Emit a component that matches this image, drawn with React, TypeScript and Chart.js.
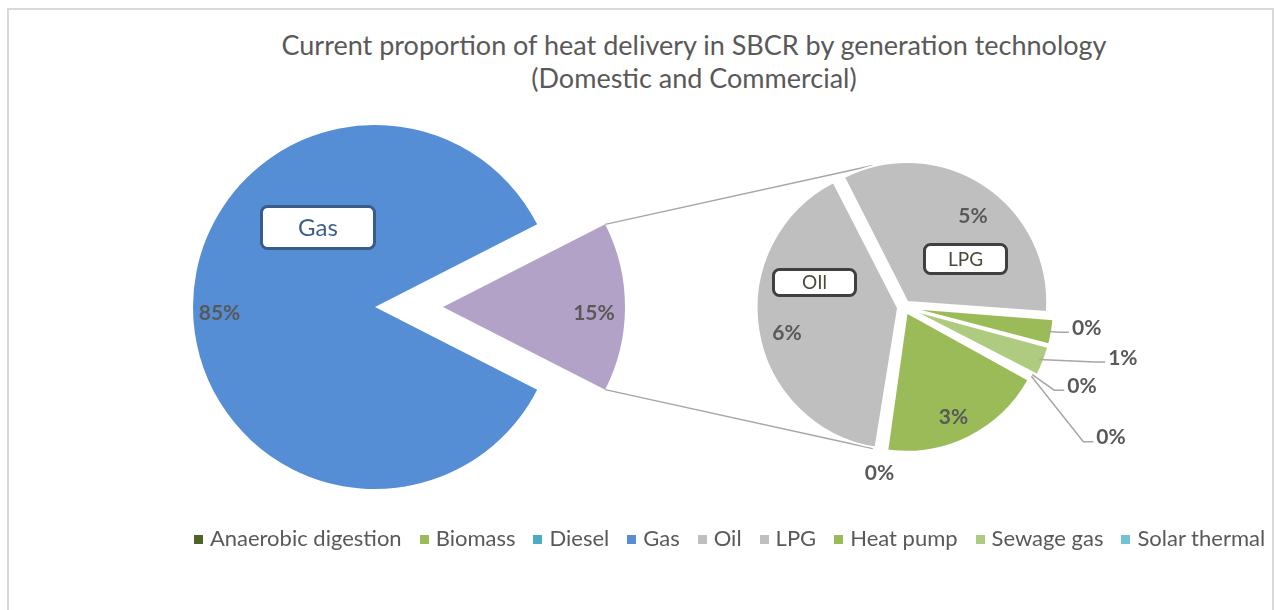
import React, { useEffect, useRef } from "react";
import { Chart, registerables } from "chart.js";

Chart.register(...registerables);

// ---------------- data ----------------
const TITLE_LINES = [
  "Current proportion of heat delivery in SBCR by generation technology",
  "(Domestic and Commercial)",
];

const LEGEND_CATEGORIES = [
  "Anaerobic digestion",
  "Biomass",
  "Diesel",
  "Gas",
  "Oil",
  "LPG",
  "Heat pump",
  "Sewage gas",
  "Solar thermal",
];
const LEGEND_COLORS = [
  "#4F6228",
  "#9BBB59",
  "#4BACC6",
  "#558ED5",
  "#BFBFBF",
  "#BFBFBF",
  "#9BBB59",
  "#AFCB80",
  "#72C0D2",
];

const PRIMARY_CATEGORIES = ["Gas", "Other"];
const GAS_SHARE = 85.0;
const OTHER_COLOR = "#B3A2C7";

const SECONDARY_CATEGORIES = [
  "Anaerobic digestion",
  "Biomass",
  "Diesel",
  "Oil",
  "LPG",
  "Heat pump",
  "Sewage gas",
  "Solar thermal",
];
const SECONDARY_SHARES = [0.03, 2.88, 0.04, 6.0, 5.05, 0.45, 0.52, 0.03];

// ---------------- layout / style ----------------
const W = 1274;
const H = 610;
const FONT = "Lato, 'Open Sans', 'DejaVu Sans', sans-serif";
const LABEL_GRAY = "#595959";
const MAIN_CENTER = { x: 375, y: 307 };
const MAIN_RADIUS = 182;
const OTHER_SHIFT = 68;
const MAIN_ROTATION = 117;
const SEC_CENTER = { x: 904, y: 307 };
const SEC_RADIUS = 139;
const SEC_ROTATION = 118.2;
const SEC_EXPLODE = 24; // chart.js offset option (translates by offset/4)
const SEC_SHIFT = SEC_EXPLODE / 4;

const deg = (d: number) => (d * Math.PI) / 180;

function paddingFor(cx: number, cy: number) {
  return {
    left: Math.max(0, 2 * cx - W),
    right: Math.max(0, W - 2 * cx),
    top: Math.max(0, 2 * cy - H),
    bottom: Math.max(0, H - 2 * cy),
  };
}

function drawText(
  ctx: CanvasRenderingContext2D,
  text: string,
  x: number,
  cy: number,
  size: number,
  color: string,
  bold: boolean,
  align: CanvasTextAlign
) {
  ctx.save();
  ctx.font = `${bold ? "bold " : ""}${size}px ${FONT}`;
  ctx.fillStyle = color;
  ctx.textAlign = align;
  ctx.textBaseline = "alphabetic";
  ctx.fillText(text, x, cy + size * 0.36);
  ctx.restore();
}

function roundRectPath(ctx: CanvasRenderingContext2D, x: number, y: number, w: number, h: number, r: number) {
  ctx.beginPath();
  ctx.moveTo(x + r, y);
  ctx.arcTo(x + w, y, x + w, y + h, r);
  ctx.arcTo(x + w, y + h, x, y + h, r);
  ctx.arcTo(x, y + h, x, y, r);
  ctx.arcTo(x, y, x + w, y, r);
  ctx.closePath();
}

function drawNameBox(
  ctx: CanvasRenderingContext2D,
  text: string,
  cx: number,
  cy: number,
  w: number,
  h: number,
  border: string,
  color: string,
  size: number
) {
  ctx.save();
  roundRectPath(ctx, cx - w / 2, cy - h / 2, w, h, 6);
  ctx.fillStyle = "#ffffff";
  ctx.fill();
  ctx.lineWidth = 3;
  ctx.strokeStyle = border;
  ctx.stroke();
  ctx.restore();
  drawText(ctx, text, cx, cy, size, color, false, "center");
}

// label placement along an arc's mid angle: [radial fraction, angle shift in degrees]
const INSIDE_LABELS: Record<string, [number, number]> = {
  Gas: [0.855, -2.0],
  Other: [0.83, 2.1],
  Oil: [0.861, -3.3],
  LPG: [0.827, 3.3],
  Biomass: [0.861, 2.1],
};
// outside labels: offset of the text from the slice's outer point, and whether a leader is drawn
const OUTSIDE_LABELS: Record<string, { dx: number; dy: number; leader: boolean }> = {
  "Heat pump": { dx: 25, dy: -4, leader: true },
  "Sewage gas": { dx: 69, dy: -2.5, leader: true },
  "Solar thermal": { dx: 35, dy: 10.5, leader: true },
  "Anaerobic digestion": { dx: 65, dy: 60.5, leader: true },
  Diesel: { dx: -3, dy: 22.5, leader: false },
};
const NAME_BOXES: Record<string, { text: string; dx: number; dy: number; w: number; h: number; border: string; color: string; size: number }> = {
  Gas: { text: "Gas", dx: -57, dy: -79.5, w: 113, h: 42, border: "#385D8A", color: "#3E5F8E", size: 24 },
  Oil: { text: "OIl", dx: -89.5, dy: -24.5, w: 82, h: 26, border: "#404040", color: "#4A4A3A", size: 19 },
  LPG: { text: "LPG", dx: 61.5, dy: -48, w: 82, h: 29, border: "#404040", color: "#4A4A3A", size: 19 },
};

function colorOf(cat: string) {
  return LEGEND_COLORS[LEGEND_CATEGORIES.indexOf(cat)];
}

function tangentPoint(px: number, py: number, cx: number, cy: number, r: number, upper: boolean) {
  const dx = px - cx;
  const dy = py - cy;
  const d = Math.hypot(dx, dy);
  const phi = Math.atan2(dy, dx);
  const a = Math.acos(Math.min(1, r / d));
  const p1 = { x: cx + r * Math.cos(phi + a), y: cy + r * Math.sin(phi + a) };
  const p2 = { x: cx + r * Math.cos(phi - a), y: cy + r * Math.sin(phi - a) };
  if (upper) return p1.y < p2.y ? p1 : p2;
  return p1.y > p2.y ? p1 : p2;
}

function makePie(
  labels: string[],
  values: number[],
  colors: string[],
  center: { x: number; y: number },
  radius: number,
  rotation: number,
  dsExtra: any,
  plugin: any
): any {
  return {
    type: "pie",
    data: {
      labels,
      datasets: [
        {
          data: values,
          backgroundColor: colors,
          borderWidth: 0,
          clip: false,
          ...dsExtra,
        },
      ],
    },
    options: {
      responsive: false,
      animation: false,
      events: [],
      radius,
      rotation,
      layout: { padding: paddingFor(center.x, center.y) },
      plugins: {
        legend: { display: false },
        title: { display: false },
        tooltip: { enabled: false },
      },
    },
    plugins: [plugin],
  };
}

export default function App() {
  const gasRef = useRef<HTMLCanvasElement>(null);
  const otherRef = useRef<HTMLCanvasElement>(null);
  const secRef = useRef<HTMLCanvasElement>(null);

  useEffect(() => {
    const otherShare = SECONDARY_SHARES.reduce((a, b) => a + b, 0);
    const total = GAS_SHARE + otherShare;
    const primaryValues = [GAS_SHARE, otherShare];
    const pct = (v: number) => `${Math.round((v / total) * 100)}%`;

    const insideLabel = (ctx: CanvasRenderingContext2D, arc: any, cat: string, value: number) => {
      const spec = INSIDE_LABELS[cat];
      if (!spec) return;
      const mid = (arc.startAngle + arc.endAngle) / 2 + deg(spec[1]);
      const d = arc.outerRadius * spec[0];
      drawText(ctx, pct(value), arc.x + Math.cos(mid) * d, arc.y + Math.sin(mid) * d, 21, LABEL_GRAY, true, "center");
    };
    const nameBox = (ctx: CanvasRenderingContext2D, arc: any, cat: string) => {
      const b = NAME_BOXES[cat];
      if (!b) return;
      drawNameBox(ctx, b.text, arc.x + b.dx, arc.y + b.dy, b.w, b.h, b.border, b.color, b.size);
    };

    const gasPlugin = {
      id: "gasLabels",
      afterDatasetsDraw(chart: any) {
        const ctx = chart.ctx;
        const arc = chart.getDatasetMeta(0).data[0];
        insideLabel(ctx, arc, "Gas", primaryValues[0]);
        nameBox(ctx, arc, "Gas");
      },
    };
    const otherPlugin = {
      id: "otherLabels",
      afterDatasetsDraw(chart: any) {
        const arc = chart.getDatasetMeta(0).data[1];
        insideLabel(chart.ctx, arc, "Other", primaryValues[1]);
      },
    };

    const gasChart = new Chart(
      gasRef.current as HTMLCanvasElement,
      makePie(PRIMARY_CATEGORIES, primaryValues, [colorOf("Gas"), "rgba(0,0,0,0)"], MAIN_CENTER, MAIN_RADIUS, MAIN_ROTATION, {}, gasPlugin)
    );
    const otherChart = new Chart(
      otherRef.current as HTMLCanvasElement,
      makePie(
        PRIMARY_CATEGORIES,
        primaryValues,
        ["rgba(0,0,0,0)", OTHER_COLOR],
        { x: MAIN_CENTER.x + OTHER_SHIFT, y: MAIN_CENTER.y },
        MAIN_RADIUS,
        MAIN_ROTATION,
        {},
        otherPlugin
      )
    );

    const secPlugin = {
      id: "secondaryLabels",
      beforeDatasetsDraw(chart: any) {
        const ctx = chart.ctx;
        const otherArc: any = otherChart.getDatasetMeta(0).data[1];
        const first: any = chart.getDatasetMeta(0).data[0];
        const R = first.outerRadius + SEC_SHIFT;
        const corners = [otherArc.startAngle, otherArc.endAngle].map((a: number) => ({
          x: otherArc.x + Math.cos(a) * otherArc.outerRadius,
          y: otherArc.y + Math.sin(a) * otherArc.outerRadius,
        }));
        ctx.save();
        ctx.strokeStyle = "#A6A6A6";
        ctx.lineWidth = 1.5;
        corners.forEach((c: any, i: number) => {
          const t = tangentPoint(c.x, c.y, first.x, first.y, R, i === 0);
          ctx.beginPath();
          ctx.moveTo(c.x, c.y);
          ctx.lineTo(t.x, t.y);
          ctx.stroke();
        });
        ctx.restore();
      },
      afterDatasetsDraw(chart: any) {
        const ctx = chart.ctx;
        const arcs = chart.getDatasetMeta(0).data;
        SECONDARY_CATEGORIES.forEach((cat, i) => {
          const arc: any = arcs[i];
          const value = SECONDARY_SHARES[i];
          insideLabel(ctx, arc, cat, value);
          nameBox(ctx, arc, cat);
          const o = OUTSIDE_LABELS[cat];
          if (o) {
            const mid = (arc.startAngle + arc.endAngle) / 2;
            const rr = arc.outerRadius + SEC_SHIFT;
            const ex = arc.x + Math.cos(mid) * rr;
            const ey = arc.y + Math.sin(mid) * rr;
            const tx = ex + o.dx;
            const ty = ey + o.dy;
            if (o.leader) {
              ctx.save();
              ctx.strokeStyle = "#A6A6A6";
              ctx.lineWidth = 1.5;
              ctx.beginPath();
              ctx.moveTo(ex, ey);
              ctx.lineTo(tx - 13, ty + 5);
              ctx.lineTo(tx - 3, ty + 5);
              ctx.stroke();
              ctx.restore();
              drawText(ctx, pct(value), tx, ty, 21, LABEL_GRAY, true, "left");
            } else {
              drawText(ctx, pct(value), tx, ty, 21, LABEL_GRAY, true, "center");
            }
          }
        });
      },
    };

    const secChart = new Chart(
      secRef.current as HTMLCanvasElement,
      makePie(
        SECONDARY_CATEGORIES,
        SECONDARY_SHARES,
        SECONDARY_CATEGORIES.map(colorOf),
        SEC_CENTER,
        SEC_RADIUS,
        SEC_ROTATION,
        { borderWidth: 2, borderColor: "#ffffff", offset: SEC_EXPLODE },
        secPlugin
      )
    );

    return () => {
      secChart.destroy();
      otherChart.destroy();
      gasChart.destroy();
    };
  }, []);

  const canvasStyle: React.CSSProperties = {
    position: "absolute",
    left: 0,
    top: 0,
    width: W,
    height: H,
  };

  return (
    <div
      style={{
        position: "absolute",
        left: 0,
        top: 0,
        width: W,
        height: H,
        overflow: "hidden",
        background: "#ffffff",
        fontFamily: FONT,
      }}
    >
      <div
        style={{
          position: "absolute",
          left: 7,
          top: 8,
          width: 1267,
          height: 700,
          boxSizing: "border-box",
          border: "2px solid #D9D9D9",
        }}
      />
      {TITLE_LINES.map((line, i) => (
        <div
          key={i}
          style={{
            position: "absolute",
            left: 94,
            width: 1200,
            top: i === 0 ? 30.5 : 63.5,
            textAlign: "center",
            fontSize: 27,
            lineHeight: "27px",
            color: LABEL_GRAY,
            whiteSpace: "nowrap",
          }}
        >
          {line}
        </div>
      ))}
      <canvas ref={gasRef} width={W} height={H} style={canvasStyle} />
      <canvas ref={otherRef} width={W} height={H} style={canvasStyle} />
      <canvas ref={secRef} width={W} height={H} style={canvasStyle} />
      <div
        style={{
          position: "absolute",
          left: 129.5,
          width: 1200,
          top: 525.5,
          display: "flex",
          justifyContent: "center",
          fontSize: 22,
          lineHeight: "24px",
          color: LABEL_GRAY,
          whiteSpace: "nowrap",
        }}
      >
        {LEGEND_CATEGORIES.map((cat, i) => (
          <div key={cat} style={{ display: "flex", alignItems: "center", marginLeft: i === 0 ? 0 : 18 }}>
            <span
              style={{
                display: "inline-block",
                width: 9,
                height: 9,
                background: LEGEND_COLORS[i],
                marginRight: 7,
                position: "relative",
                top: 2,
              }}
            />
            <span>{cat}</span>
          </div>
        ))}
      </div>
    </div>
  );
}
